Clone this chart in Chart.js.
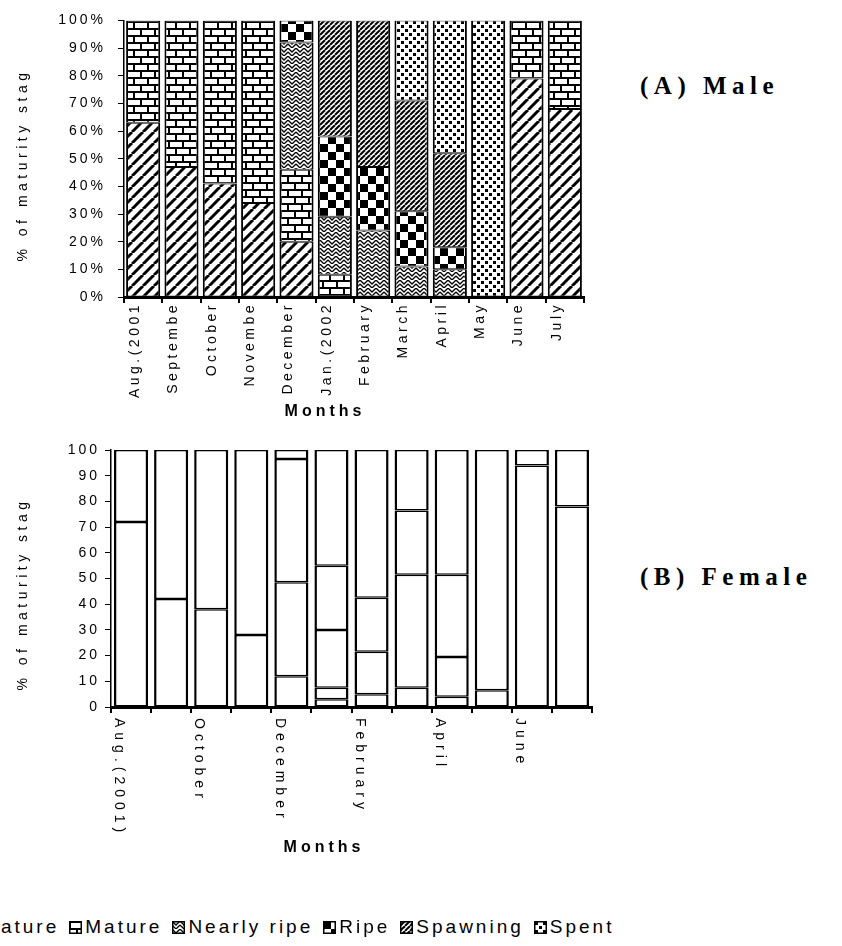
<!DOCTYPE html>
<html>
<head>
<meta charset="utf-8">
<script src="https://cdn.jsdelivr.net/npm/chart.js@4.4.1/dist/chart.umd.min.js"></script>
<style>
body{margin:0;width:842px;height:946px;background:#fff;position:relative;overflow:hidden;font-family:"Liberation Sans",Arial,sans-serif;color:#000}
.wrap{position:absolute}
.ytitle{position:absolute;font-size:14px;letter-spacing:4.5px;white-space:nowrap;transform:translate(-50%,-50%) rotate(-90deg)}
.xtitle{position:absolute;font-size:16px;font-weight:bold;letter-spacing:4px;white-space:nowrap;transform:translate(-50%,-50%)}
.panel{position:absolute;font-family:"Liberation Serif","Times New Roman",serif;font-weight:bold;font-size:25px;letter-spacing:5.5px;white-space:nowrap;transform:translateY(-50%)}
#legend{position:absolute;left:-61px;top:927px;transform:translateY(-50%);display:flex;align-items:center;font-size:19px;letter-spacing:3px;white-space:nowrap}
#legend canvas{width:13px;height:13px;margin-right:3px}
#legend span{margin-right:10px}
</style>
</head>
<body>
<div class="wrap" style="left:0;top:0;width:600px;height:420px"><canvas id="maleChart"></canvas></div>
<div class="wrap" style="left:0;top:430px;width:600px;height:440px"><canvas id="femaleChart"></canvas></div>

<div class="ytitle" style="left:22px;top:165px">% of maturity stag</div>
<div class="ytitle" style="left:22px;top:594px">% of maturity stag</div>
<div class="xtitle" style="left:325px;top:411px">Months</div>
<div class="xtitle" style="left:324px;top:847px">Months</div>
<div class="panel" style="left:640px;top:86px">(A) Male</div>
<div class="panel" style="left:640px;top:577px">(B) Female</div>
<div id="legend"></div>

<script>
const stages = ["Immature", "Mature", "Nearly ripe", "Ripe", "Spawning", "Spent"];

// male month labels as printed (cut off in the picture)
const maleMonths = ["Aug.(2001", "Septembe", "October", "Novembe", "December", "Jan.(2002", "February", "March", "April", "May", "June", "July"];
const femaleMonths = ["Aug.(2001)", "September", "October", "November", "December", "Jan.(2002)", "February", "March", "April", "May", "June", "July"];

const percentTicks = [0, 10, 20, 30, 40, 50, 60, 70, 80, 90, 100];

// (A) Male
const immatureM   = [63, 47, 41, 34, 20, 0, 0, 0, 0, 0, 79, 68];
const matureM     = [37, 53, 59, 66, 26, 8, 0, 0, 0, 0, 21, 32];
const nearlyRipeM = [0, 0, 0, 0, 46, 21, 24, 11, 10, 0, 0, 0];
const ripeM       = [0, 0, 0, 0, 8, 29, 23, 20, 8, 0, 0, 0];
const spawningM   = [0, 0, 0, 0, 0, 42, 53, 40, 34, 0, 0, 0];
const spentM      = [0, 0, 0, 0, 0, 0, 0, 29, 48, 100, 0, 0];

// (B) Female
const immatureF   = [72, 42, 38, 28, 12, 3, 0, 0, 0, 0, 94, 78];
const matureF     = [28, 58, 62, 72, 36.5, 4.5, 5, 0, 0, 0, 6, 22];
const nearlyRipeF = [0, 0, 0, 0, 48, 22.5, 16.5, 7.5, 4, 0, 0, 0];
const ripeF       = [0, 0, 0, 0, 3.5, 25, 21, 44, 15.5, 0, 0, 0];
const spawningF   = [0, 0, 0, 0, 0, 45, 57.5, 25, 32, 6.5, 0, 0];
const spentF      = [0, 0, 0, 0, 0, 0, 0, 23.5, 48.5, 93.5, 0, 0];

Chart.defaults.font.family = '"Liberation Sans", Arial, sans-serif';
Chart.defaults.font.size = 14;
Chart.defaults.color = '#000';

// black and white fills like the old excel chart
function tile(w, h, draw) {
  const c = document.createElement('canvas');
  c.width = w; c.height = h;
  const g = c.getContext('2d');
  g.fillStyle = '#fff';
  g.fillRect(0, 0, w, h);
  g.fillStyle = '#000';
  g.strokeStyle = '#000';
  draw(g, w, h);
  return c;
}
function hatch(s, lw) {
  return tile(s, s, (g) => {
    g.lineWidth = lw;
    [-s, 0, s].forEach(k => { g.beginPath(); g.moveTo(k, s); g.lineTo(k + s, 0); g.stroke(); });
  });
}
const tiles = [
  hatch(11, 3),
  tile(14, 14, (g) => {
    g.fillRect(0, 0, 14, 2); g.fillRect(0, 7, 14, 2);
    g.fillRect(0, 0, 2, 7); g.fillRect(7, 7, 2, 7);
  }),
  tile(8, 8, (g) => {
    g.lineWidth = 1.3;
    g.beginPath(); g.moveTo(0, 0); g.lineTo(4, 4); g.lineTo(8, 0); g.stroke();
    g.beginPath(); g.moveTo(0, 4); g.lineTo(4, 8); g.lineTo(8, 4); g.stroke();
  }),
  tile(16, 16, (g) => { g.fillRect(0, 0, 8, 8); g.fillRect(8, 8, 8, 8); }),
  hatch(5, 2),
  tile(8, 8, (g) => { g.fillRect(1, 1, 3, 3); g.fillRect(5, 5, 3, 3); })
];
const ctxTmp = document.createElement('canvas').getContext('2d');
const patterns = tiles.map(t => ctxTmp.createPattern(t, 'repeat'));

function monthLabels(labels, dx, gap, angle, align, every, spacing) {
  return {
    id: 'monthLabels',
    beforeDraw(chart) { chart.ctx.letterSpacing = '3px'; },
    afterDraw(chart) {
      const ctx = chart.ctx, sx = chart.scales.x;
      ctx.save();
      ctx.letterSpacing = spacing + 'px';
      ctx.font = '14px "Liberation Sans", Arial, sans-serif';
      ctx.fillStyle = '#000';
      labels.forEach((t, i) => {
        if (i % every) return;
        ctx.save();
        ctx.translate(sx.getPixelForValue(i) + dx, chart.chartArea.bottom + gap);
        ctx.rotate(angle);
        ctx.textAlign = align;
        ctx.textBaseline = 'middle';
        ctx.fillText(t, 0, 0);
        ctx.restore();
      });
      ctx.restore();
    }
  };
}

function makeChart(id, months, series, fills, opt) {
  return new Chart(document.getElementById(id), {
    type: 'bar',
    data: {
      labels: months,
      datasets: series.map((d, i) => ({
        label: stages[i],
        data: d,
        backgroundColor: fills[i],
        borderColor: '#000',
        borderWidth: opt.border,
        borderSkipped: false,
        categoryPercentage: 1,
        barPercentage: opt.bar
      }))
    },
    options: {
      responsive: true,
      maintainAspectRatio: false,
      animation: false,
      layout: { padding: { top: opt.top, right: opt.right, left: 0, bottom: 0 } },
      plugins: { legend: { display: false }, tooltip: { enabled: false } },
      scales: {
        x: {
          stacked: true,
          grid: { offset: true, drawOnChartArea: false, tickLength: 6, color: '#000', lineWidth: 2 },
          border: { color: '#000', width: 3 },
          ticks: { display: false },
          afterFit(s) { s.height = opt.xh; }
        },
        y: {
          stacked: true, min: 0, max: 100,
          grid: { drawOnChartArea: false, tickLength: 6, color: '#000', lineWidth: 1 },
          border: { color: '#000', width: 1.5 },
          ticks: { padding: opt.pad, callback: v => v + opt.unit },
          afterBuildTicks(s) { s.ticks = percentTicks.map(v => ({ value: v })); },
          afterFit(s) { s.width = opt.yw; }
        }
      }
    },
    plugins: [opt.labels]
  });
}

makeChart('maleChart', maleMonths,
  [immatureM, matureM, nearlyRipeM, ripeM, spawningM, spentM], patterns,
  { border: { left: 2, right: 2, top: 1, bottom: 1 }, bar: 0.89, top: 17, right: 16, xh: 123, yw: 124, pad: 12, unit: '%',
    labels: monthLabels(maleMonths, -8, 5, -Math.PI / 2, 'right', 1, 3.5) });

makeChart('femaleChart', femaleMonths,
  [immatureF, matureF, nearlyRipeF, ripeF, spawningF, spentF], stages.map(() => '#fff'),
  { border: { left: 2.5, right: 2.5, top: 1.5, bottom: 1.5 }, bar: 0.85, top: 20, right: 8, xh: 163, yw: 111, pad: 5, unit: '',
    labels: monthLabels(femaleMonths, -12, 11, Math.PI / 2, 'left', 2, 5) });

// legend row at the bottom (starts off the left edge like the picture)
const legend = document.getElementById('legend');
stages.forEach((name, i) => {
  const c = document.createElement('canvas');
  c.width = 13; c.height = 13;
  const g = c.getContext('2d');
  g.fillStyle = g.createPattern(tiles[i], 'repeat');
  g.fillRect(0, 0, 13, 13);
  g.strokeStyle = '#000'; g.lineWidth = 1.5;
  g.strokeRect(0.75, 0.75, 11.5, 11.5);
  const s = document.createElement('span');
  s.textContent = name;
  legend.appendChild(c);
  legend.appendChild(s);
});
</script>
</body>
</html>
